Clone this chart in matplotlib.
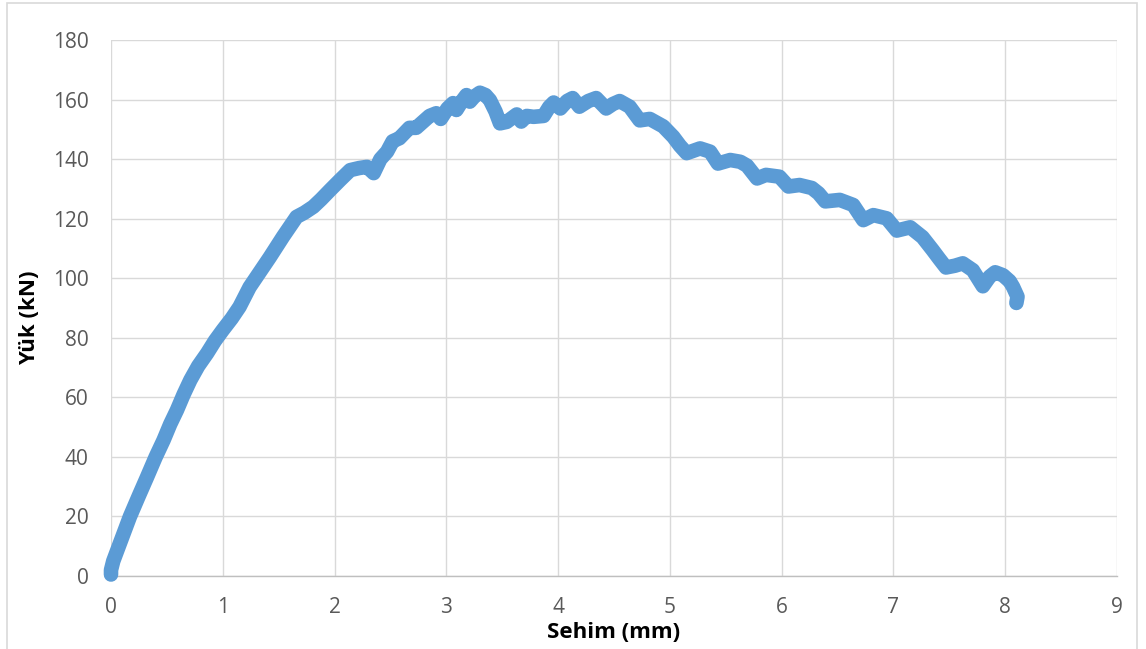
import matplotlib
matplotlib.use("Agg")
import matplotlib.pyplot as plt
from matplotlib.patches import Rectangle

# Load–deflection record (deflection in mm, load in kN)
sehim = [0.00, 0.00, 0.02, 0.05, 0.10, 0.17, 0.25, 0.32, 0.40, 0.47, 0.53, 0.59, 0.65,
         0.71, 0.78, 0.86, 0.93, 1.00, 1.08, 1.15, 1.24, 1.33, 1.42, 1.54, 1.66, 1.73,
         1.81, 1.88, 1.96, 2.05, 2.14, 2.22, 2.29, 2.35, 2.41, 2.47, 2.52, 2.58, 2.67,
         2.73, 2.79, 2.85, 2.91, 2.95, 3.01, 3.06, 3.09, 3.14, 3.18, 3.21, 3.25, 3.30,
         3.35, 3.39, 3.44, 3.48, 3.54, 3.63, 3.67, 3.72, 3.78, 3.87, 3.92, 3.96, 4.02,
         4.08, 4.13, 4.19, 4.27, 4.34, 4.43, 4.49, 4.55, 4.64, 4.73, 4.82, 4.94, 5.03,
         5.09, 5.15, 5.27, 5.36, 5.43, 5.54, 5.63, 5.69, 5.78, 5.86, 5.98, 6.06, 6.16,
         6.27, 6.33, 6.39, 6.52, 6.64, 6.73, 6.82, 6.94, 7.03, 7.15, 7.26, 7.35, 7.41,
         7.47, 7.55, 7.62, 7.71, 7.80, 7.86, 7.91, 7.98, 8.04, 8.07, 8.11, 8.10]
yuk = [0.5, 2.0, 5.0, 8.0, 13.0, 20.0, 27.0, 33.0, 40.0, 45.6, 51.0, 55.7, 61.0,
       65.8, 70.5, 74.8, 79.0, 82.6, 86.5, 90.4, 97.0, 102.0, 107.0, 114.0, 120.6, 122.0,
       124.0, 126.5, 129.6, 133.0, 136.3, 137.0, 137.4, 135.3, 140.0, 142.5, 146.0, 147.0, 150.5,
       150.5, 152.5, 154.5, 155.4, 153.5, 157.0, 158.8, 156.5, 159.5, 161.5, 159.3, 161.0, 162.3,
       161.5, 159.8, 156.0, 152.0, 152.5, 155.0, 152.6, 154.5, 154.2, 154.5, 157.5, 159.0, 157.0,
       159.5, 160.5, 157.6, 159.5, 160.5, 157.0, 158.5, 159.5, 157.6, 153.0, 153.5, 151.0, 147.5,
       144.5, 142.0, 143.6, 142.5, 138.5, 139.7, 139.1, 137.8, 133.5, 134.7, 134.1, 130.8, 131.3,
       130.3, 128.5, 125.8, 126.3, 124.6, 119.5, 121.2, 120.1, 116.0, 117.1, 113.8, 109.5, 106.5,
       103.6, 104.2, 105.0, 102.7, 97.3, 100.5, 102.0, 101.0, 99.0, 97.1, 93.8, 91.7]

x_ticks = list(range(0, 10))
y_ticks = list(range(0, 181, 20))
x_label = "Sehim (mm)"
y_label = "Yük (kN)"

line_color = "#5B9BD5"
grid_color = "#D9D9D9"
text_color = "#595959"

plt.rcParams["font.family"] = ["Open Sans", "DejaVu Sans"]

W, H = 1146, 649
fig = plt.figure(figsize=(W / 100, H / 100), dpi=100)
fig.patch.set_facecolor("white")

# thin frame around the chart area
frame = Rectangle((7 / W, -0.05), (1137 - 7) / W, 1.05 - 3 / H,
                  transform=fig.transFigure, fill=False, edgecolor=grid_color,
                  linewidth=1.2, zorder=0)
fig.add_artist(frame)

ax = fig.add_axes([111 / W, 1 - 576 / H, (1117 - 111) / W, (576 - 40) / H])

ax.plot(sehim, yuk, color=line_color, linewidth=10.5,
        solid_capstyle="round", solid_joinstyle="round", zorder=3, clip_on=False)

ax.set_xlim(0, 9)
ax.set_ylim(0, 180)
ax.set_xticks(x_ticks)
ax.set_yticks(y_ticks)
ax.set_xticklabels([str(v) for v in x_ticks])
ax.set_yticklabels([str(v) for v in y_ticks])

ax.grid(True, color=grid_color, linewidth=1.0, zorder=0)
ax.set_axisbelow(True)
for side in ("top", "right", "left"):
    ax.spines[side].set_visible(False)
ax.spines["bottom"].set_color("#BFBFBF")
ax.spines["bottom"].set_linewidth(1.0)

ax.tick_params(axis="both", length=0, labelsize=15, colors=text_color)
ax.tick_params(axis="x", pad=15)
ax.tick_params(axis="y", pad=16)

fig.text((111 + 1117) / 2 / W, 1 - 632 / H, x_label, fontsize=16, fontweight="bold",
         color="black", ha="center", va="center")
fig.text(30 / W, 1 - 318 / H, y_label, fontsize=16, fontweight="bold",
         color="black", ha="center", va="center", rotation=90)

fig.savefig("out.png", dpi=100)
